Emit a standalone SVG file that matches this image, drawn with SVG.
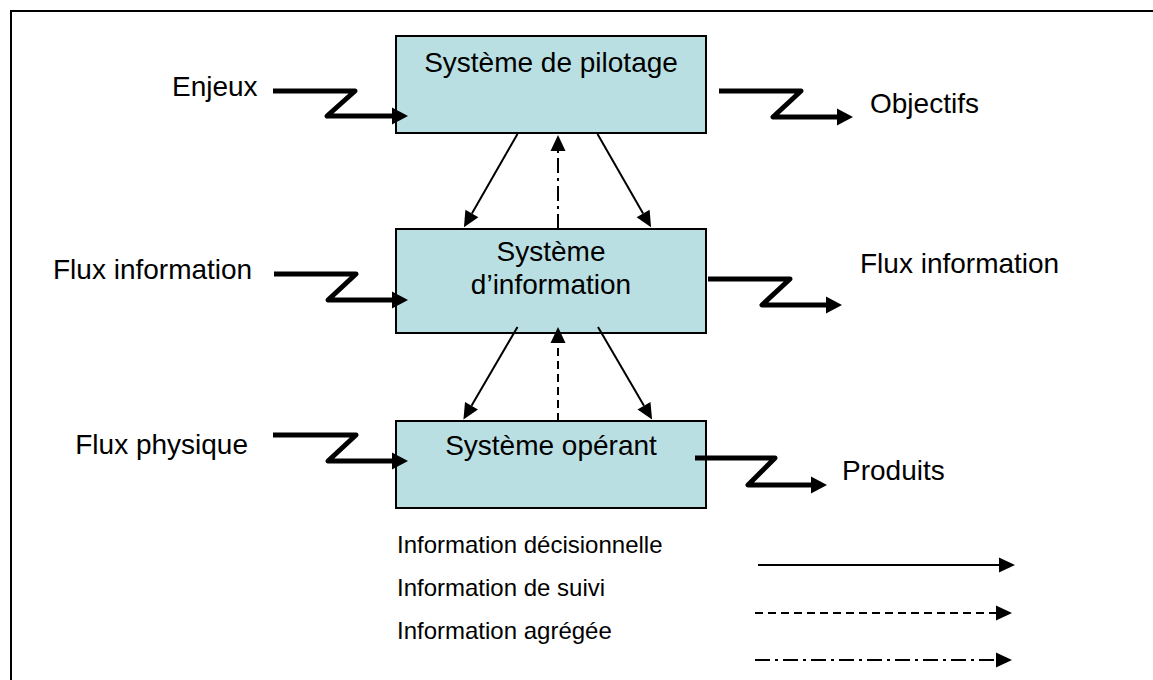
<svg xmlns="http://www.w3.org/2000/svg" width="1153" height="680" viewBox="0 0 1153 680">
<style>
.box{fill:#BADFE2;stroke:#000;stroke-width:2}
.t{font-family:"Liberation Sans",Arial,sans-serif;font-size:28px;fill:#000}
.lg{font-family:"Liberation Sans",Arial,sans-serif;font-size:24px;fill:#000}
.z{fill:none;stroke:#000;stroke-width:5;stroke-linejoin:round;marker-end:url(#zh)}
.a{fill:none;stroke:#000;stroke-width:2;marker-end:url(#th)}
.dash{stroke-dasharray:8 5}
.dd{stroke-dasharray:15 5 3 5}
</style>
<defs>
<marker id="zh" markerUnits="userSpaceOnUse" markerWidth="16" markerHeight="17" refX="0" refY="8.5" orient="auto" overflow="visible"><path d="M0,0 L16,8.5 L0,17 z" fill="#000"/></marker>
<marker id="th" markerUnits="userSpaceOnUse" markerWidth="16" markerHeight="15" refX="0" refY="7.5" orient="auto" overflow="visible"><path d="M0,0 L16,7.5 L0,15 z" fill="#000"/></marker>
</defs>
<rect width="1153" height="680" fill="#fff"/>
<path d="M11,680 V11 H1153" fill="none" stroke="#000" stroke-width="2"/>

<g id="pilotage">
<rect class="box" x="396" y="36" width="310" height="97"/>
<text class="t" x="551" y="72" text-anchor="middle">Système de pilotage</text>
</g>
<g id="information">
<rect class="box" x="396" y="229" width="310" height="104"/>
<text class="t" x="551" y="261" text-anchor="middle">Système</text>
<text class="t" x="551" y="294" text-anchor="middle">d’information</text>
</g>
<g id="operant">
<rect class="box" x="396" y="421" width="310" height="87"/>
<text class="t" x="551" y="455" text-anchor="middle">Système opérant</text>
</g>

<g id="labels">
<text class="t" x="172" y="96">Enjeux</text>
<text class="t" x="870" y="113">Objectifs</text>
<text class="t" x="53" y="279">Flux information</text>
<text class="t" x="860" y="273">Flux information</text>
<text class="t" x="248" y="454" text-anchor="end">Flux physique</text>
<text class="t" x="842" y="480">Produits</text>
</g>

<g id="connectors">
<path class="z" d="M273,91 H355 L327,116 H392"/>
<path class="z" d="M719,91 H801 L773,117 H837"/>
<path class="z" d="M274,274 H356 L328,300 H392"/>
<path class="z" d="M708,279 H790 L762,305 H826"/>
<path class="z" d="M273,435 H356 L328,461 H392"/>
<path class="z" d="M695,458 H775 L748,485 H811"/>

<path class="a" d="M517.5,134 L471.9,213.4"/>
<path class="a" d="M597.5,134 L643.1,213.4"/>
<path class="a dd" d="M558,229 V151"/>

<path class="a" d="M517.5,327 L471.5,405.7"/>
<path class="a" d="M598,327 L644,405.7"/>
<path class="a dash" d="M558,421 V343"/>
</g>

<g id="legend">
<text class="lg" x="397" y="553">Information décisionnelle</text>
<text class="lg" x="397" y="596">Information de suivi</text>
<text class="lg" x="397" y="639">Information agrégée</text>
<path class="a" d="M758,565 H999"/>
<path class="a dash" d="M755,613 H996"/>
<path class="a dd" d="M755,660 H996"/>
</g>
</svg>
